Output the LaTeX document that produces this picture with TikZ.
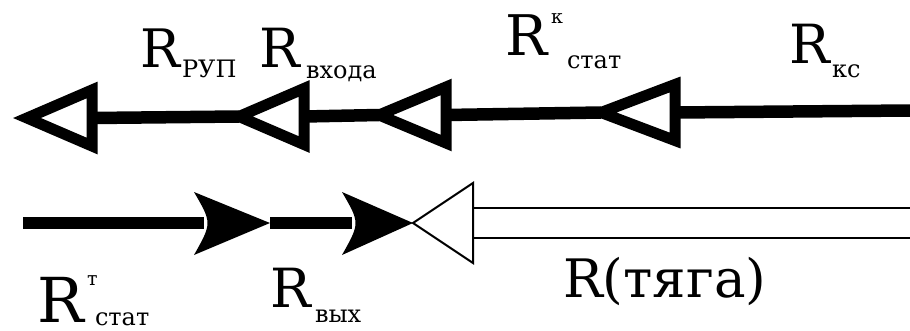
\documentclass[tikz,border=0pt]{standalone}
\usepackage{fontspec}
\setmainfont{DejaVu Serif}
\newcommand{\fsz}[1]{\fontsize{#1}{#1}\selectfont}
\begin{document}
\begin{tikzpicture}[x=1pt,y=-1pt,
  hollowhead/.style={line width=11pt, line join=miter, miter limit=10},
  shaft/.style={line width=12.5pt},
  thinline/.style={line width=2pt, line join=miter, miter limit=10},
  lbl/.style={anchor=base west, inner sep=0pt, outer sep=0pt},
]
\fill[white] (0,0) rectangle (910,330);
\useasboundingbox (0,0) rectangle (910,330);

% ---------- upper row: chain of hollow arrowheads pointing left ----------
\coordinate (t1a) at (27,118);   \coordinate (t1b) at (92,118);
\coordinate (t2a) at (239,116.5);\coordinate (t2b) at (304,116.5);
\coordinate (t3a) at (379,115);  \coordinate (t3b) at (446,115);
\coordinate (t4a) at (601,112.5);\coordinate (t4b) at (675,112.5);
\coordinate (topend) at (910,110.5);

\draw[shaft] (topend) -- (t4b);
\draw[shaft] (t4a) -- (t3b);
\draw[shaft] (t3a) -- (t2b);
\draw[shaft] (t2a) -- (t1b);

\foreach \a/\b in {t1a/t1b, t2a/t2b, t3a/t3b, t4a/t4b}
  \draw[hollowhead] (\a) -- ([yshift=28pt]\b) -- ([yshift=-28pt]\b) -- cycle;

% ---------- lower row ----------
\coordinate (bstart) at (23,223);
\coordinate (h1n) at (204,223); \coordinate (h1t) at (270,223);
\coordinate (h2n) at (352,223); \coordinate (h2t) at (413,223);
\coordinate (tb) at (473,223);  \coordinate (bend) at (910,223);

\draw[shaft] (bstart) -- (h1n);
\draw[shaft] (h1t) -- (h2n);

% filled arrowheads with a curved back
\fill (h1t) -- (194,192) .. controls (212,223) .. (194,255) -- cycle;
\fill (h2t) -- (342,192) .. controls (360,223) .. (342,255) -- cycle;

% thrust: double line and open thin arrowhead
\draw[double, double distance=28pt, line width=2pt] (tb) -- (bend);
\draw[thinline] (h2t) -- ([yshift=40pt]tb) -- ([yshift=-40pt]tb) -- cycle;

% ---------- labels ----------
\node[lbl] (rpup) at (140,67) {\fsz{53}R};
\node[lbl] (rpups) at (182,77) {\fsz{24}РУП};

\node[lbl] (rvh) at (259,67) {\fsz{54}R};
\node[lbl] (rvhs) at (306,78) {\fsz{24}входа};

\node[lbl] (rks) at (505,55) {\fsz{56}R};
\node[lbl] (rksup) at (551,23) {\fsz{19}к};
\node[lbl] (rkss) at (567,68) {\fsz{24}стат};

\node[lbl] (rkc) at (789,63) {\fsz{54}R};
\node[lbl] (rkcs) at (832,77) {\fsz{24}кс};

\node[lbl] (rts) at (37,322) {\fsz{62}R};
\node[lbl] (rtsup) at (87,285) {\fsz{19}т};
\node[lbl] (rtss) at (95,325) {\fsz{24}стат};

\node[lbl] (rvyh) at (270,307) {\fsz{54}R};
\node[lbl] (rvyhs) at (315,322) {\fsz{24}вых};

\node[lbl] (rthr) at (563,297) {\fsz{53}R(тяга)};
\end{tikzpicture}
\end{document}
